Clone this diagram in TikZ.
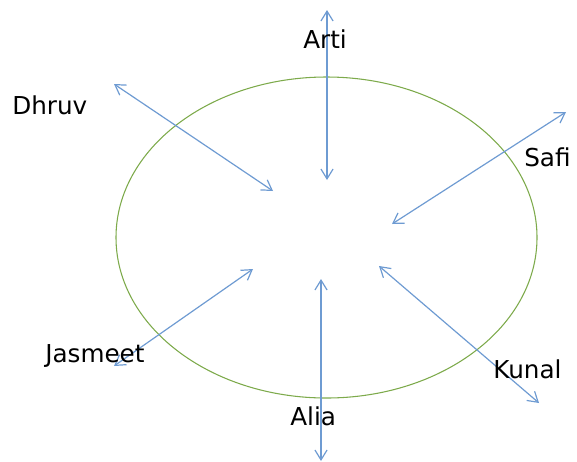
\documentclass[tikz,border=0pt]{standalone}
\usepackage{fontspec}
\setmainfont{DejaVu Sans}
\usetikzlibrary{arrows.meta,shapes.geometric}
\definecolor{arrc}{RGB}{110,155,210}
\definecolor{ellc}{RGB}{125,170,75}
\tikzset{
  arr/.style={draw=arrc, line width=0.9pt, {Straight Barb[length=2.6mm,width=3.2mm]}-{Straight Barb[length=2.6mm,width=3.2mm]}},
  lbl/.style={anchor=base west, inner sep=0pt, font=\fontsize{18.5}{22}\selectfont, text=black}
}
\begin{document}
\begin{tikzpicture}[x=0.75pt,y=-0.75pt]
\useasboundingbox (0,0) rectangle (577,461);
\node[draw=ellc, line width=0.8pt, ellipse, minimum width=421*0.75pt, minimum height=321*0.75pt, inner sep=0pt] (ell) at (326.5,237.5) {};
% arrows
\coordinate (ar1) at (327,10); \coordinate (ar2) at (327,180);
\coordinate (dh1) at (114,84); \coordinate (dh2) at (273,191);
\coordinate (sa1) at (566,112); \coordinate (sa2) at (392,224);
\coordinate (ja1) at (253,269); \coordinate (ja2) at (114,366);
\coordinate (ku1) at (379,266); \coordinate (ku2) at (539,403);
\coordinate (al1) at (321,279); \coordinate (al2) at (321,461);
\draw[arr] (ar1) -- (ar2);
\draw[arr] (dh1) -- (dh2);
\draw[arr] (sa1) -- (sa2);
\draw[arr] (ja1) -- (ja2);
\draw[arr] (ku1) -- (ku2);
\draw[arr] (al1) -- (al2);
% labels
\node[lbl] (arti) at (303,48) {Arti};
\node[lbl] (dhruv) at (12,114) {Dhruv};
\node[lbl] (safi) at (524,166) {Safi};
\node[lbl] (jasmeet) at (45,362) {Jasmeet};
\node[lbl] (kunal) at (493,378) {Kunal};
\node[lbl] (alia) at (290,425) {Alia};
\end{tikzpicture}
\end{document}
